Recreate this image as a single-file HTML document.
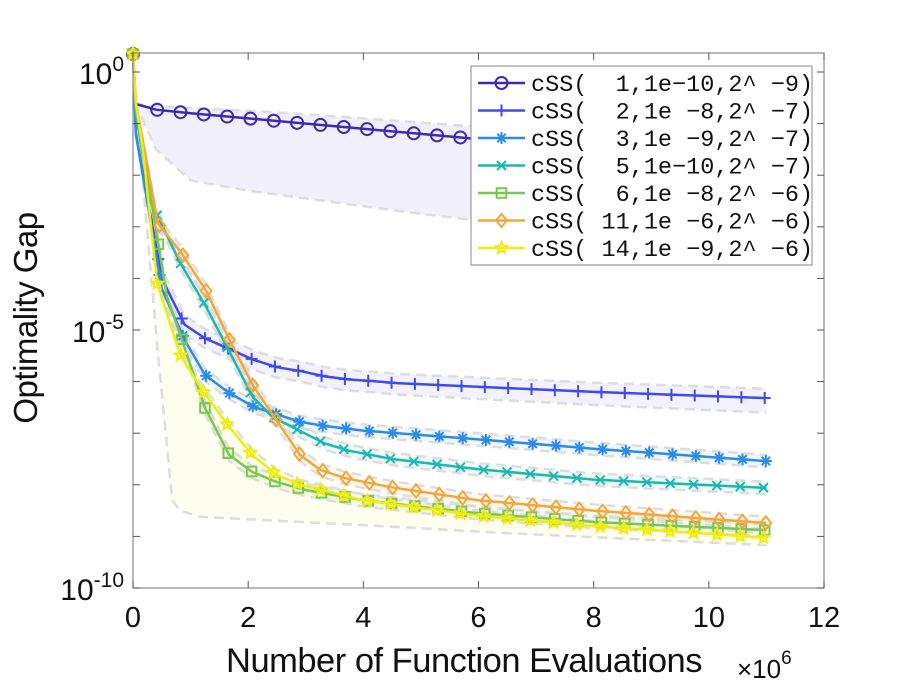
<!DOCTYPE html>
<html><head><meta charset="utf-8">
<style>
html,body{margin:0;padding:0;background:#fff;}
svg{display:block;font-family:"Liberation Sans",sans-serif;}
</style></head>
<body>
<svg id="chart" width="913" height="686" viewBox="0 0 913 686" xmlns="http://www.w3.org/2000/svg">
<rect x="0" y="0" width="913" height="686" fill="#fff"/>
<g id="bands"></g>
<g id="series"></g>
<g id="axes"></g>
<g id="legend"></g>
</svg>
<script>
const xTicks = [0,2,4,6,8,10,12];
const xTickLabels = ["0","2","4","6","8","10","12"];
const yTicks = [0,-5,-10];
const yTickLabels = ["0","-5","-10"];
const seriesNames = ["cSS(  1,1e\u221210,2^ \u22129)","cSS(  2,1e \u22128,2^ \u22127)","cSS(  3,1e \u22129,2^ \u22127)","cSS(  5,1e\u221210,2^ \u22127)","cSS(  6,1e \u22128,2^ \u22126)","cSS( 11,1e \u22126,2^ \u22126)","cSS( 14,1e \u22129,2^ \u22126)"];
const seriesColors = ["#3a2ab4","#4148f0","#2a8ce8","#1cb8b0","#78c850","#f5a63a","#f0ec10"];
const seriesMarkers = ["circle","plus","star","x","square","diamond","pentagram"];
// x in 1e6 evaluations, y as log10(gap)
const s1x = [0,0.05,0.4,1,2,3,4,5,6,7,8,9,10,11];
const s1y = [0.35,-0.62,-0.73,-0.8,-0.9,-1.0,-1.1,-1.2,-1.3,-1.38,-1.45,-1.52,-1.58,-1.63];
const s1lo = [0.35,-0.62,-1.5,-2.1,-2.3,-2.45,-2.6,-2.75,-2.88,-2.97,-3.05,-3.12,-3.18,-3.22];
const s1hi = [0.35,-0.62,-0.66,-0.7,-0.75,-0.82,-0.9,-0.98,-1.06,-1.13,-1.2,-1.26,-1.31,-1.35];
const s2x = [0,0.05,0.5,0.9,1.25,2.1,2.5,2.93,3.33,3.75,4.17,4.58,6.37,8,11];
const s2y = [0.35,-1.2,-4.0,-4.9,-5.16,-5.58,-5.72,-5.8,-5.9,-5.96,-5.99,-6.03,-6.12,-6.2,-6.32];
const s3x = [0,0.05,0.5,0.9,1.25,1.67,2.1,2.9,3.33,4,6,8,11];
const s3y = [0.35,-1.2,-4.2,-5.2,-5.87,-6.22,-6.49,-6.78,-6.86,-6.95,-7.12,-7.3,-7.54];
const s4x = [0,0.05,0.3,0.82,1.27,1.68,2.08,2.43,3.33,3.75,4.5,6,8,11];
const s4y = [0.35,-0.8,-2.5,-3.7,-4.55,-5.43,-6.3,-6.69,-7.2,-7.34,-7.5,-7.7,-7.9,-8.06];
const s5x = [0,0.05,0.17,0.59,0.76,1.25,1.67,2.07,2.5,3,4,6,8,11];
const s5y = [0.35,-0.7,-1.5,-4.36,-4.9,-6.51,-7.42,-7.75,-7.95,-8.1,-8.3,-8.55,-8.72,-8.88];
const s6x = [0,0.05,0.43,0.83,1.27,1.68,2.08,2.9,3.25,3.68,4.5,6,8,11];
const s6y = [0.35,-0.6,-2.93,-3.49,-4.24,-5.2,-6.07,-7.42,-7.71,-7.87,-8.05,-8.3,-8.5,-8.74];
const s7x = [0,0.05,0.17,0.42,0.82,1.2,1.63,2.07,2.5,2.9,4,6,8,11];
const s7y = [0.35,-0.6,-1.5,-4.1,-5.48,-6.16,-6.82,-7.42,-7.81,-8.0,-8.3,-8.6,-8.8,-9.03];
const s7lox = [0,0.05,0.42,0.68,0.82,1.16,4.64,6.37,11];
const s7lo = [0.35,-0.6,-5.3,-8.3,-8.5,-8.62,-8.82,-8.93,-9.17];

const NS="http://www.w3.org/2000/svg";
const X0=133,X1=824,YT=53,YB=588;
function xs(v){return X0+(v/12)*(X1-X0);}
function ys(l){return 72+(0-l)*51.6;}
function mk(tag,attrs,parent){const e=document.createElementNS(NS,tag);for(const k in attrs)e.setAttribute(k,attrs[k]);parent.appendChild(e);return e;}
function interp(xa,ya,x){if(x<=xa[0])return ya[0];for(let i=1;i<xa.length;i++){if(x<=xa[i]){const t=(x-xa[i-1])/(xa[i]-xa[i-1]);return ya[i-1]+t*(ya[i]-ya[i-1]);}}return ya[ya.length-1];}
function pathOf(xa,ya){return xa.map((x,i)=>(i?"L":"M")+xs(x).toFixed(1)+","+ys(ya[i]).toFixed(1)).join(" ");}

const bands=document.getElementById('bands'), ser=document.getElementById('series'), axes=document.getElementById('axes'), leg=document.getElementById('legend');
const allX=[s1x,s2x,s3x,s4x,s5x,s6x,s7x], allY=[s1y,s2y,s3y,s4y,s5y,s6y,s7y];

function drawBand(xu,yu,xl,yl,color,idx){
  const d=pathOf(xu,yu)+" "+xl.slice().reverse().map((x,i,a)=>"L"+xs(x).toFixed(1)+","+ys(yl[yl.length-1-i]).toFixed(1)).join(" ")+" Z";
  const p=mk('path',{d:d,fill:color,'fill-opacity':0.07,stroke:'none'},bands);
  
  
  const a=mk('path',{d:pathOf(xu,yu),fill:'none',stroke:'#ddd','stroke-width':2.5,'stroke-dasharray':'10,6'},bands);
  
  
  const b=mk('path',{d:pathOf(xl,yl),fill:'none',stroke:'#ddd','stroke-width':2.5,'stroke-dasharray':'10,6'},bands);
  
  
}
drawBand(s1x,s1hi,s1x,s1lo,seriesColors[0],0);
for(let i=1;i<6;i++){
  const w=(i===1)?0.18:0.12;
  const hi=allY[i].map((v,j)=>j<2?v:v+w), lo=allY[i].map((v,j)=>j<2?v:v-w-(i===1?0.1*allX[i][j]/11:0));
  drawBand(allX[i],hi,allX[i],lo,seriesColors[i],i);
}
drawBand(s7x,s7y.map((v,j)=>j<2?v:v+0.1),s7lox,s7lo,seriesColors[6],6);

function marker(type,cx,cy,color,parent,r){
  r=r||6;let e;
  const st={fill:'none',stroke:color,'stroke-width':2};
  if(type==='circle')e=mk('circle',Object.assign({cx:cx,cy:cy,r:r},st),parent);
  else if(type==='square')e=mk('rect',Object.assign({x:cx-r*0.8,y:cy-r*0.8,width:r*1.6,height:r*1.6},st),parent);
  else if(type==='diamond')e=mk('path',Object.assign({d:`M${cx},${cy-r*1.1}L${cx+r*0.9},${cy}L${cx},${cy+r*1.1}L${cx-r*0.9},${cy}Z`},st),parent);
  else if(type==='plus')e=mk('path',Object.assign({d:`M${cx-r},${cy}H${cx+r}M${cx},${cy-r}V${cy+r}`},st),parent);
  else if(type==='x')e=mk('path',Object.assign({d:`M${cx-r*0.75},${cy-r*0.75}L${cx+r*0.75},${cy+r*0.75}M${cx+r*0.75},${cy-r*0.75}L${cx-r*0.75},${cy+r*0.75}`},st),parent);
  else if(type==='star')e=mk('path',Object.assign({d:`M${cx-r},${cy}H${cx+r}M${cx},${cy-r}V${cy+r}M${cx-r*0.7},${cy-r*0.7}L${cx+r*0.7},${cy+r*0.7}M${cx+r*0.7},${cy-r*0.7}L${cx-r*0.7},${cy+r*0.7}`},st),parent);
  else {let pts=[];for(let k=0;k<10;k++){const a=-Math.PI/2+k*Math.PI/5,rr=k%2?r*0.45:r;pts.push((cx+rr*Math.cos(a)).toFixed(1)+","+(cy+rr*Math.sin(a)).toFixed(1));}
    e=mk('polygon',Object.assign({points:pts.join(" ")},st),parent);}
  return e;
}

for(let i=0;i<7;i++){
  const g=mk('g',{},ser);
  
  
  const p=mk('path',{d:pathOf(allX[i],allY[i]),fill:'none',stroke:seriesColors[i],'stroke-width':2.5},g);
  
  
  const last=allX[i][allX[i].length-1];
  for(let x=0.42+(i%3)*0.02;x<=last+0.01;x+=0.405){
    const m=marker(seriesMarkers[i],xs(x),ys(interp(allX[i],allY[i],x)),seriesColors[i],g);
    
    
  }
  const m0=marker(seriesMarkers[i],xs(0),ys(allY[i][0]),seriesColors[i],g);
  
  
}

// axes box
mk('rect',{x:X0,y:YT,width:X1-X0,height:YB-YT,fill:'none',stroke:'#8a8a8a','stroke-width':1.2},axes);
xTicks.forEach((t,i)=>{
  const x=xs(t);
  mk('line',{x1:x,y1:YB,x2:x,y2:YB-7,stroke:'#555','stroke-width':1},axes);
  mk('line',{x1:x,y1:YT,x2:x,y2:YT+7,stroke:'#555','stroke-width':1},axes);
  const tx=mk('text',{x:x,y:627,'font-size':29,'text-anchor':'middle',fill:'#111'},axes);
  tx.textContent=xTickLabels[i];
  
  
});
for(let d=0;d>=-10;d--){
  const y=ys(d);
  mk('line',{x1:X0,y1:y,x2:X0+7,y2:y,stroke:'#555','stroke-width':1},axes);
  mk('line',{x1:X1,y1:y,x2:X1-7,y2:y,stroke:'#555','stroke-width':1},axes);
}
yTicks.forEach((t,i)=>{
  const y=ys(t);
  const tx=mk('text',{x:124,y:y+12,'font-size':30,'text-anchor':'end',fill:'#111'},axes);
  
  
  const b=document.createElementNS(NS,'tspan');b.textContent='10';tx.appendChild(b);
  const s=document.createElementNS(NS,'tspan');s.setAttribute('dy','-13');s.setAttribute('font-size','21');s.textContent=yTickLabels[i];tx.appendChild(s);
});
const xl=mk('text',{x:464,y:672,'font-size':34.5,'text-anchor':'middle',fill:'#111','letter-spacing':'-0.5'},axes);
xl.textContent='Number of Function Evaluations';


const ex=mk('text',{x:737,y:678,'font-size':26,fill:'#111'},axes);


ex.innerHTML='\u00d710<tspan dy="-14" font-size="19">6</tspan>';
const yl=mk('text',{x:0,y:0,'font-size':33,'text-anchor':'middle',fill:'#111',transform:'translate(37,318) rotate(-90)','letter-spacing':'-0.5'},axes);
yl.textContent='Optimality Gap';



// legend
mk('rect',{x:471,y:66,width:341,height:199,fill:'#fff',stroke:'#8a8a8a','stroke-width':1},leg);
seriesNames.forEach((n,i)=>{
  const y=83+i*27.5;
  const g=mk('g',{},leg);
  
  
  mk('line',{x1:478,y1:y,x2:525,y2:y,stroke:seriesColors[i],'stroke-width':2.5},g);
  marker(seriesMarkers[i],501.5,y,seriesColors[i],g,6);
  const t=mk('text',{x:531,y:y+8,'font-size':23.5,fill:'#111','font-family':'Liberation Mono, monospace','xml:space':'preserve'},g);
  t.style.whiteSpace='pre';
  t.textContent=n;
});
</script>
</body></html>
